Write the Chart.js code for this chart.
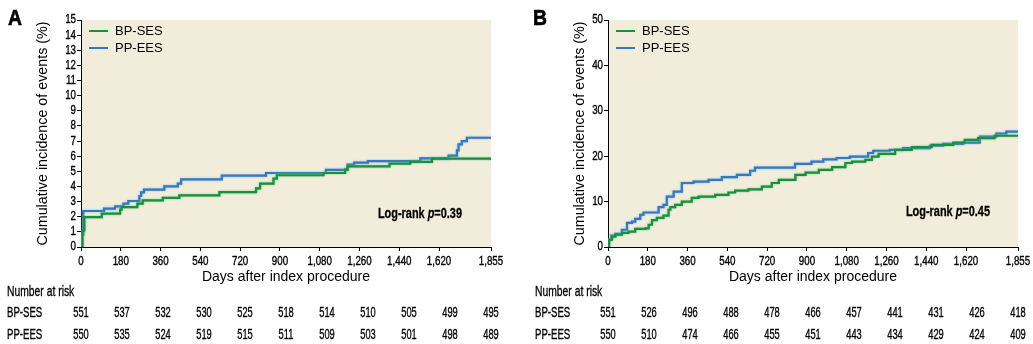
<!DOCTYPE html>
<html>
<head>
<meta charset="utf-8">
<script src="https://cdn.jsdelivr.net/npm/chart.js@4"></script>
<style>
  body { margin: 0; background: #fff; width: 1033px; height: 344px; overflow: hidden; position: relative; }
  .box { position: absolute; top: 0; height: 344px; }
</style>
</head>
<body>
<div class="box" style="left:0;width:515px"><canvas id="chartA" width="515" height="344"></canvas></div>
<div class="box" style="left:515px;width:518px"><canvas id="chartB" width="518" height="344"></canvas></div>
<script>
// ---- data ----
const seriesNames = ['BP-SES', 'PP-EES'];
const xTicks = [0, 180, 360, 540, 720, 900, 1080, 1260, 1440, 1620, 1855];
const xMax = 1855;

// panel A
const aBpSesDays = [0, 7, 15, 94, 177, 184, 255, 279, 370, 445, 626, 792, 810, 871, 886, 1097, 1195, 1206, 1396, 1489, 1588, 1855];
const aBpSesPct  = [0, 1.1, 1.98, 2.2, 2.47, 2.64, 2.86, 3.08, 3.24, 3.41, 3.63, 3.88, 4.19, 4.52, 4.74, 4.89, 5.11, 5.33, 5.51, 5.62, 5.84, 5.84];
const aPpEesDays = [0, 1, 10, 104, 154, 192, 214, 264, 272, 285, 377, 438, 453, 637, 837, 1108, 1206, 1236, 1298, 1535, 1663, 1701, 1708, 1723, 1746, 1855];
const aPpEesPct  = [0, 0.8, 2.38, 2.53, 2.69, 2.86, 3.04, 3.37, 3.61, 3.79, 4.0, 4.19, 4.47, 4.72, 4.89, 5.09, 5.44, 5.57, 5.68, 5.86, 6.04, 6.39, 6.78, 7.0, 7.22, 7.22];
const aRiskBpSes = [551, 537, 532, 530, 525, 518, 514, 510, 505, 499, 495];
const aRiskPpEes = [550, 535, 524, 519, 515, 511, 509, 503, 501, 498, 489];

// panel B
const bBpSesDays = [0, 2, 5, 18, 33, 63, 93, 123, 169, 184, 199, 221, 251, 274, 282, 304, 334, 379, 410, 485, 545, 575, 635, 696, 741, 773, 848, 894, 954, 1014, 1074, 1104, 1164, 1194, 1224, 1299, 1374, 1464, 1562, 1614, 1674, 1749, 1855];
const bBpSesPct  = [0, 0.2, 1.6, 2.3, 2.7, 3.1, 3.4, 4.0, 4.1, 4.9, 5.9, 6.4, 6.9, 8.2, 8.8, 9.3, 10.0, 10.8, 11.1, 11.5, 12.0, 12.4, 12.7, 13.3, 14.1, 14.8, 15.9, 16.4, 17.0, 17.6, 18.5, 18.8, 19.2, 19.9, 20.5, 21.4, 22.0, 22.5, 23.0, 23.6, 24.0, 24.5, 24.5];
const bPpEesDays = [0, 1, 15, 33, 63, 86, 108, 123, 146, 161, 229, 251, 266, 297, 334, 387, 455, 515, 583, 643, 665, 846, 921, 974, 1034, 1094, 1177, 1200, 1275, 1335, 1456, 1516, 1606, 1682, 1757, 1802, 1855];
const bPpEesPct  = [0, 1.6, 2.5, 2.9, 3.8, 5.3, 5.6, 6.2, 7.1, 7.6, 8.8, 9.3, 11.1, 12.2, 14.1, 14.4, 14.8, 15.4, 15.9, 16.8, 17.5, 18.3, 18.8, 19.3, 19.6, 19.9, 20.7, 21.2, 21.4, 21.8, 22.3, 22.7, 23.0, 24.3, 25.0, 25.4, 25.4];
const bRiskBpSes = [551, 526, 496, 488, 478, 466, 457, 441, 431, 426, 418];
const bRiskPpEes = [550, 510, 474, 466, 455, 451, 443, 434, 429, 424, 409];

const colors = ['#14923e', '#2f7bc3'];
const halos = ['rgba(110,190,110,0.9)', 'rgba(120,170,225,0.9)'];
const plotBg = '#f2eddb';
const plain = "'Liberation Sans', Arial, sans-serif";

// condensed look: draw text squeezed horizontally, with a hairline stroke for weight
function narrowText(ctx, text, x, y, sx, heavy) {
  ctx.save();
  ctx.translate(x, y);
  ctx.scale(sx, 1);
  ctx.fillText(text, 0, 0);
  if (heavy) {
    ctx.strokeStyle = ctx.fillStyle;
    ctx.lineWidth = heavy;
    ctx.strokeText(text, 0, 0);
  }
  ctx.restore();
}

function pts(days, pct) {
  return days.map((d, i) => ({ x: d, y: pct[i] }));
}

function makeChart(id, o) {
  const extras = {
    id: 'kmExtras',
    beforeDraw(chart) {
      const a = chart.chartArea, ctx = chart.ctx;
      ctx.save();
      ctx.fillStyle = plotBg;
      ctx.fillRect(a.left, a.top, a.right - a.left, a.bottom - a.top);
      ctx.restore();
    },
    beforeDatasetDraw(chart, args) {
      const ctx = chart.ctx;
      ctx.save();
      ctx.shadowColor = halos[args.index];
      ctx.shadowBlur = 2;
    },
    afterDatasetDraw(chart) {
      chart.ctx.restore();
    },
    afterDraw(chart) {
      const a = chart.chartArea, ctx = chart.ctx;
      const xs = chart.scales.x, ys = chart.scales.y;
      ctx.save();
      ctx.fillStyle = '#000';

      // tick labels
      ctx.font = "12.5px " + plain;
      ctx.textBaseline = 'middle';
      ctx.textAlign = 'center';
      xs.ticks.forEach(t => {
        narrowText(ctx, t.value.toLocaleString('en-US'), xs.getPixelForValue(t.value), a.bottom + 15, 0.78, 0.35);
      });
      ctx.textAlign = 'right';
      ys.ticks.forEach(t => {
        narrowText(ctx, String(t.value), a.left - 5, ys.getPixelForValue(t.value), 0.78, 0.35);
      });

      // panel letter
      ctx.font = "bold 22px " + plain;
      ctx.textBaseline = 'alphabetic';
      ctx.textAlign = 'left';
      narrowText(ctx, o.letter, o.letterX, 25, 0.88, 0.6);

      // legend
      ctx.font = "13px " + plain;
      ctx.textBaseline = 'middle';
      seriesNames.forEach((n, i) => {
        const y = a.top + 11 + i * 17;
        ctx.strokeStyle = colors[i];
        ctx.lineWidth = 2;
        ctx.beginPath();
        ctx.moveTo(a.left + 8, y);
        ctx.lineTo(a.left + 27, y);
        ctx.stroke();
        ctx.fillStyle = '#000';
        ctx.fillText(n, a.left + 34, y);
      });

      // log-rank text
      const sq = 0.78;
      const parts = [["bold 14px " + plain, 'Log-rank '], ["italic bold 14px " + plain, 'p'], ["bold 14px " + plain, '=' + o.p]];
      let w = 0;
      parts.forEach(p => { ctx.font = p[0]; w += ctx.measureText(p[1]).width * sq; });
      let x = a.right - o.pRight - w;
      const py = a.bottom - o.pBottom;
      parts.forEach(p => {
        ctx.font = p[0];
        narrowText(ctx, p[1], x, py, sq, 0.3);
        x += ctx.measureText(p[1]).width * sq;
      });

      // number at risk
      const rs = 0.64;
      ctx.font = "15px " + plain;
      ctx.textAlign = 'left';
      narrowText(ctx, 'Number at risk', o.labelX, 292, 0.69, 0.35);
      narrowText(ctx, seriesNames[0], o.labelX, 313, rs, 0.35);
      narrowText(ctx, seriesNames[1], o.labelX, 335, rs, 0.35);
      ctx.textAlign = 'center';
      o.risk.forEach((row, r) => {
        row.forEach((v, i) => {
          const px = xs.getPixelForValue(i * xMax / (row.length - 1));
          narrowText(ctx, String(v), px, r === 0 ? 313 : 335, 0.62, 0.35);
        });
      });
      ctx.restore();
    }
  };

  return new Chart(document.getElementById(id).getContext('2d'), {
    type: 'line',
    data: {
      datasets: o.series.map((s, i) => ({
        label: seriesNames[i],
        data: s,
        borderColor: colors[i],
        backgroundColor: colors[i],
        borderWidth: 2.2,
        stepped: true,
        pointRadius: 0,
        fill: false
      }))
    },
    options: {
      responsive: false,
      animation: false,
      layout: { padding: { left: o.padLeft, right: o.padRight, top: 20, bottom: 55 } },
      plugins: { legend: { display: false }, tooltip: { enabled: false } },
      scales: {
        x: {
          type: 'linear',
          min: 0,
          max: xMax,
          afterBuildTicks: (s) => { s.ticks = xTicks.map(v => ({ value: v })); },
          afterFit: (s) => { s.height = 42; },
          grid: { drawOnChartArea: false, drawTicks: true, tickLength: 4, color: '#000' },
          border: { display: true, color: '#000', width: 1 },
          ticks: { display: false, autoSkip: false },
          title: { display: true, text: 'Days after index procedure', color: '#000', font: { family: plain, size: 14 }, padding: { top: 0, bottom: 3 } }
        },
        y: {
          min: 0,
          max: o.yMax,
          afterFit: (s) => { s.width = o.yWidth; },
          grid: { drawOnChartArea: false, drawTicks: true, tickLength: 4, color: '#000' },
          border: { display: true, color: '#000', width: 1 },
          ticks: { display: false, stepSize: o.yStep, autoSkip: false },
          title: { display: true, text: 'Cumulative incidence of events (%)', color: '#000', font: { family: plain, size: 14.3 }, padding: 4 }
        }
      }
    },
    plugins: [extras]
  });
}

makeChart('chartA', {
  series: [pts(aBpSesDays, aBpSesPct), pts(aPpEesDays, aPpEesPct)],
  risk: [aRiskBpSes, aRiskPpEes],
  yMax: 15, yStep: 1, yWidth: 51, padLeft: 30, padRight: 24,
  letter: 'A', letterX: 8, labelX: 7, p: '0.39', pRight: 29, pBottom: 33
});

makeChart('chartB', {
  series: [pts(bBpSesDays, bBpSesPct), pts(bPpEesDays, bPpEesPct)],
  risk: [bRiskBpSes, bRiskPpEes],
  yMax: 50, yStep: 10, yWidth: 41, padLeft: 52, padRight: 15,
  letter: 'B', letterX: 18, labelX: 20, p: '0.45', pRight: 28, pBottom: 35
});
</script>
</body>
</html>
